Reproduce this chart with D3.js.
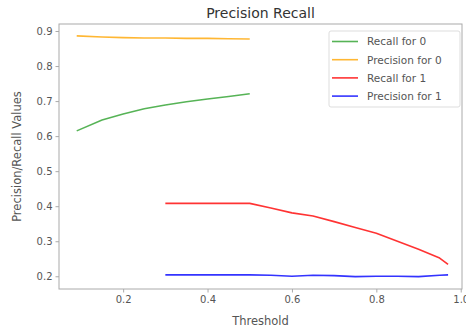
<!DOCTYPE html>
<html><head><meta charset="utf-8">
<script src="https://cdn.jsdelivr.net/npm/d3@7"></script>
<style>body{margin:0;background:#fff}svg{display:block}text{font-family:"DejaVu Sans",sans-serif}</style>
</head><body><svg id="c" width="466" height="332"></svg>
<script>
const thresholds0 = [0.09, 0.15, 0.2, 0.25, 0.3, 0.35, 0.4, 0.45, 0.5];
const recall0 = [0.615, 0.646, 0.663, 0.678, 0.689, 0.698, 0.706, 0.713, 0.721];
const precision0 = [0.886, 0.883, 0.881, 0.880, 0.880, 0.879, 0.879, 0.878, 0.877];
const thresholds1 = [0.3, 0.35, 0.4, 0.45, 0.5, 0.55, 0.6, 0.65, 0.7, 0.75, 0.8, 0.85, 0.9, 0.95, 0.97];
const recall1 = [0.408, 0.408, 0.408, 0.408, 0.408, 0.395, 0.381, 0.372, 0.356, 0.339, 0.323, 0.300, 0.277, 0.252, 0.234];
const precision1 = [0.204, 0.204, 0.204, 0.204, 0.204, 0.203, 0.200, 0.203, 0.202, 0.199, 0.200, 0.200, 0.199, 0.203, 0.204];
const xTicks = [0.2, 0.4, 0.6, 0.8, 1.0];
const yTicks = [0.2, 0.3, 0.4, 0.5, 0.6, 0.7, 0.8, 0.9];
const seriesNames = ["Recall for 0", "Precision for 0", "Recall for 1", "Precision for 1"];
const seriesColors = ["#2ca02c", "#ffa500", "#ff0000", "#0000ff"];

const series = [
  {name: seriesNames[0], color: seriesColors[0], xs: thresholds0, ys: recall0},
  {name: seriesNames[1], color: seriesColors[1], xs: thresholds0, ys: precision0},
  {name: seriesNames[2], color: seriesColors[2], xs: thresholds1, ys: recall1},
  {name: seriesNames[3], color: seriesColors[3], xs: thresholds1, ys: precision1}
];

const svg = d3.select("#c");
const L = 59, R = 462, T = 24, B = 289;
const x = d3.scaleLinear().domain([0.048, 1.003]).range([L, R]);
const y = d3.scaleLinear().domain([0.1637, 0.92]).range([B, T]);

const axisColor = "#aaa", textColor = "#555";

const gx = svg.append("g").attr("transform", `translate(0,${B})`)
  .call(d3.axisBottom(x).tickValues(xTicks).tickFormat(d3.format(".1f")).tickSize(3.5).tickPadding(3));
const gy = svg.append("g").attr("transform", `translate(${L},0)`)
  .call(d3.axisLeft(y).tickValues(yTicks).tickFormat(d3.format(".1f")).tickSize(3.5).tickPadding(3));
[gx, gy].forEach(g => {
  g.select(".domain").remove();
  g.selectAll(".tick line").attr("stroke", axisColor);
  g.selectAll(".tick text").attr("fill", textColor).style("font-size", "10px").style("font-family", "DejaVu Sans");
});

// spines
svg.append("rect").attr("x", L).attr("y", T).attr("width", R - L).attr("height", B - T)
  .attr("fill", "none").attr("stroke", axisColor).attr("stroke-width", 1);

const line = d3.line().x(d => x(d[0])).y(d => y(d[1]));
series.forEach(s => {
  svg.append("path").datum(s.xs.map((v, i) => [v, s.ys[i]]))
    .attr("d", line).attr("fill", "none").attr("stroke", s.color)
    .attr("stroke-width", 1.6).attr("stroke-opacity", 0.8).attr("stroke-linejoin", "round");
});

// title and labels
svg.append("text").attr("x", (L + R) / 2).attr("y", 18).attr("text-anchor", "middle")
  .attr("fill", "#333").style("font-size", "14px").text("Precision Recall");
svg.append("text").attr("x", (L + R) / 2).attr("y", 325).attr("text-anchor", "middle")
  .attr("fill", textColor).style("font-size", "11.5px").text("Threshold");
svg.append("text").attr("transform", `translate(21,${(T + B) / 2}) rotate(-90)`).attr("text-anchor", "middle")
  .attr("fill", textColor).style("font-size", "11.5px").text("Precision/Recall Values");

// legend
const lg = svg.append("g");
lg.append("rect").attr("x", 329).attr("y", 31).attr("width", 131).attr("height", 76)
  .attr("rx", 2).attr("fill", "#fff").attr("fill-opacity", 0.8).attr("stroke", "#ddd");
series.forEach((s, i) => {
  const yy = 41.5 + i * 18.2;
  lg.append("line").attr("x1", 332).attr("x2", 358).attr("y1", yy).attr("y2", yy)
    .attr("stroke", s.color).attr("stroke-width", 1.6).attr("stroke-opacity", 0.8);
  lg.append("text").attr("x", 367).attr("y", yy + 3.8).attr("fill", textColor)
    .style("font-size", "10.5px").text(s.name);
});
</script></body></html>
